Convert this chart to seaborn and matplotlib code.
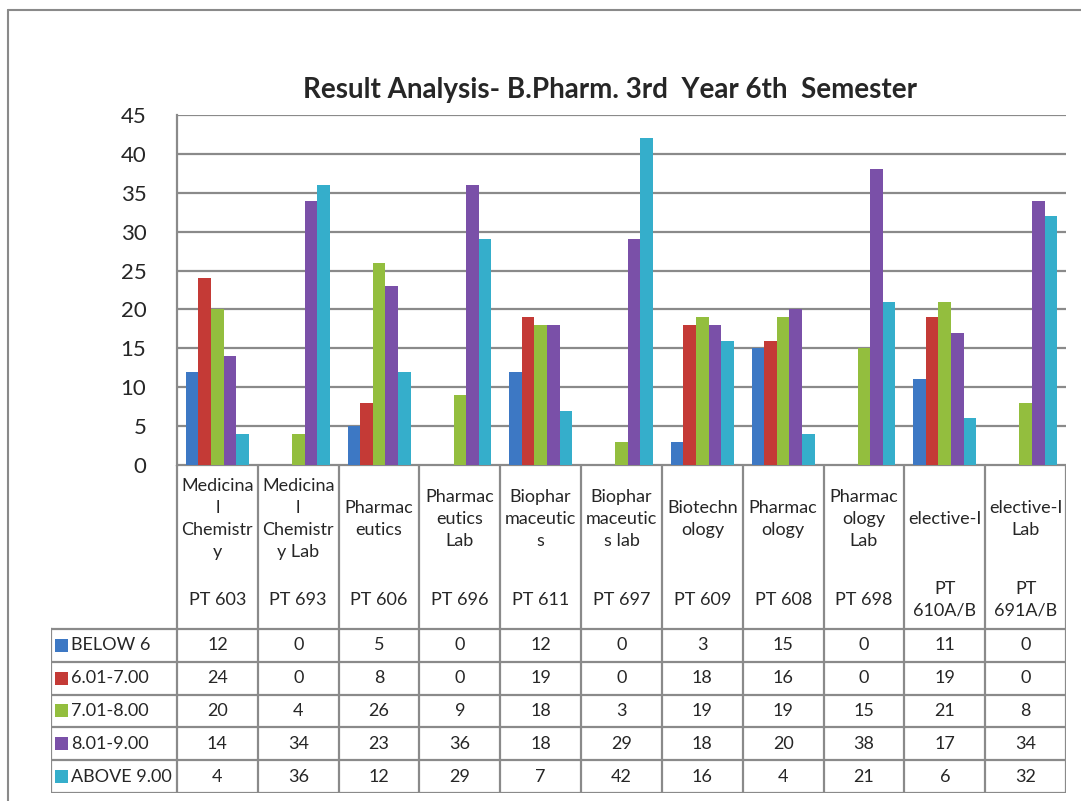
import numpy as np
import pandas as pd
import matplotlib
matplotlib.use('Agg')
import matplotlib.pyplot as plt
from matplotlib.lines import Line2D
from matplotlib.patches import Rectangle
import seaborn as sns

# ── Data ──────────────────────────────────────────────────────────────────────
codes = ['PT 603', 'PT 693', 'PT 606', 'PT 696', 'PT 611', 'PT 697',
         'PT 609', 'PT 608', 'PT 698', 'PT\n610A/B', 'PT\n691A/B']
names = ['Medicina\nl\nChemistr\ny', 'Medicina\nl\nChemistr\ny Lab',
         'Pharmac\neutics', 'Pharmac\neutics\nLab',
         'Biophar\nmaceutic\ns', 'Biophar\nmaceutic\ns lab',
         'Biotechn\nology', 'Pharmac\nology', 'Pharmac\nology\nLab',
         'elective-I', 'elective-I\nLab']
series = ['BELOW 6', '6.01-7.00', '7.01-8.00', '8.01-9.00', 'ABOVE 9.00']

below_6   = [12, 0, 5, 0, 12, 0, 3, 15, 0, 11, 0]
r601_700  = [24, 0, 8, 0, 19, 0, 18, 16, 0, 19, 0]
r701_800  = [20, 4, 26, 9, 18, 3, 19, 19, 15, 21, 8]
r801_900  = [14, 34, 23, 36, 18, 29, 18, 20, 38, 17, 34]
above_900 = [4, 36, 12, 29, 7, 42, 16, 4, 21, 6, 32]

colors = ['#3D78C4', '#C43A36', '#93BE3E', '#7A50A8', '#35AECB']

values = [below_6, r601_700, r701_800, r801_900, above_900]
df = pd.DataFrame({
    'Subject': np.tile(codes, len(series)),
    'Range': np.repeat(series, len(codes)),
    'Count': np.concatenate(values),
})

# ── Layout (pixels of the 1081x801 canvas) ───────────────────────────────────
W, H = 1081, 801
L, R, T, B = 177, 1066, 115, 465          # plot area
TB_LEFT, TB_BOT, HDR_BOT = 51, 793, 629   # data table
GRID = '#8A8A8A'
FONT = ['Lato', 'DejaVu Sans']
FS = 13

sns.set_theme(style='white')
plt.rcParams['font.family'] = FONT

fig = plt.figure(figsize=(W / 100, H / 100), dpi=100)
ax = fig.add_axes([L / W, 1 - B / H, (R - L) / W, (B - T) / H])

sns.barplot(data=df, x='Subject', y='Count', hue='Range', order=codes,
            hue_order=series, palette=colors, width=0.78, linewidth=0,
            saturation=1, legend=False, ax=ax)

ax.set_xlim(-0.5, len(codes) - 0.5)
ax.set_ylim(0, 45)
ax.set_yticks(range(0, 46, 5))
ax.tick_params(axis='y', labelsize=16, pad=22, length=0)
ax.set_xticks([])
ax.set_xlabel('')
ax.set_ylabel('')
ax.yaxis.grid(True, color=GRID, linewidth=1.6)
ax.set_axisbelow(True)
for s in ['top', 'right', 'bottom']:
    ax.spines[s].set_visible(False)
ax.spines['left'].set_color(GRID)
ax.spines['left'].set_linewidth(1.6)

fig.text(610 / W, 1 - 90 / H, 'Result Analysis- B.Pharm. 3rd  Year 6th  Semester',
         ha='center', va='center', fontsize=20, fontweight='bold')

# ── Data table under the chart ────────────────────────────────────────────────
n = len(codes)
px_per = (R - L) / n
x_left = -0.5 - (L - TB_LEFT) / px_per
tax = fig.add_axes([TB_LEFT / W, 1 - TB_BOT / H, (R - TB_LEFT) / W, (TB_BOT - B) / H])
tax.set_xlim(x_left, n - 0.5)
tax.set_ylim(TB_BOT, B)
tax.axis('off')

row_h = (TB_BOT - HDR_BOT) / len(series)
lk = dict(color=GRID, linewidth=1.6, solid_capstyle='projecting')
tax.add_line(Line2D([-0.5, n - 0.5], [B, B], **lk))
for k in range(n + 1):
    tax.add_line(Line2D([k - 0.5, k - 0.5], [B, TB_BOT], **lk))
tax.add_line(Line2D([x_left, x_left], [HDR_BOT, TB_BOT], **lk))
for i in range(len(series) + 1):
    y = HDR_BOT + i * row_h
    tax.add_line(Line2D([x_left, n - 0.5], [y, y], **lk))

for k in range(n):
    tax.text(k, 519, names[k], ha='center', va='center', fontsize=FS,
             linespacing=1.45)
    tax.text(k, 600, codes[k], ha='center', va='center', fontsize=FS,
             linespacing=1.45)

for i, (label, vals) in enumerate(zip(series, values)):
    yc = HDR_BOT + (i + 0.5) * row_h
    kx = x_left + 4 / px_per
    tax.add_patch(Rectangle((kx, yc - 6.5), 13 / px_per, 13,
                            facecolor=colors[i], edgecolor='none'))
    tax.text(x_left + 20 / px_per, yc, label, ha='left', va='center',
             fontsize=FS)
    for k, v in enumerate(vals):
        tax.text(k, yc, str(v), ha='center', va='center', fontsize=FS)

# outer chart frame (left and top edges visible)
fig.add_artist(Line2D([8 / W, 8 / W], [0, 1 - 10 / H], color=GRID, linewidth=1.5))
fig.add_artist(Line2D([8 / W, 1], [1 - 10 / H, 1 - 10 / H], color=GRID, linewidth=1.5))

fig.savefig('out.png', dpi=100)
